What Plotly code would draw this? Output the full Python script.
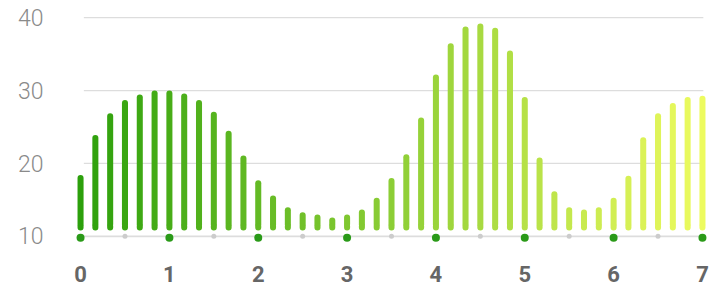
import plotly.graph_objects as go

# ---- data ----
bar_x = [i / 6 for i in range(43)]
bar_values = [18.4, 23.9, 26.9, 28.7, 29.45, 30.0, 30.0, 29.6, 28.7, 27.1, 24.5,
              21.1, 17.7, 15.6, 14.0, 13.3, 13.0, 12.6, 13.0, 13.7, 15.3, 18.0,
              21.25, 26.3, 32.2, 36.5, 38.8, 39.2, 38.6, 35.5, 29.1, 20.8, 16.2,
              14.0, 13.7, 14.0, 15.3, 18.3, 23.6, 26.9, 28.3, 29.1, 29.3]
bar_base = 10.8
major_ticks = [0, 1, 2, 3, 4, 5, 6, 7]
minor_dots = [0.5, 1.5, 2.5, 3.5, 4.5, 5.5, 6.5]
y_ticks = [10, 20, 30, 40]
grid_lines = [20, 30, 40]

# ---- style ----
c0 = (44, 160, 12)
c1 = (237, 251, 95)
def col(x):
    t = x / 7
    return "rgb(%d,%d,%d)" % tuple(round(a + (b - a) * t) for a, b in zip(c0, c1))
colors = [col(x) for x in bar_x]
cap = 1.0  # height (in data units) of the bottom round-cap piece
upper_base = bar_base + 0.45

fig = go.Figure()
# main bar (rounded top)
fig.add_trace(go.Bar(x=bar_x, y=[v - upper_base for v in bar_values], base=upper_base,
                     width=0.068, marker=dict(color=colors, line=dict(width=0)),
                     hoverinfo="skip"))
# bottom cap (rounded bottom)
fig.add_trace(go.Bar(x=bar_x, y=[-cap] * len(bar_x), base=bar_base + cap,
                     width=0.068, marker=dict(color=colors, line=dict(width=0)),
                     hoverinfo="skip"))

shapes = []
for g in grid_lines:
    shapes.append(dict(type="line", xref="x", yref="y", x0=0.037, x1=7.01, y0=g, y1=g,
                       line=dict(color="#dddddd", width=1.3), layer="below"))
shapes.append(dict(type="line", xref="x", yref="y", x0=0.037, x1=7.01, y0=10, y1=10,
                   line=dict(color="#dddddd", width=1.6), layer="below"))

fig.add_trace(go.Scatter(x=minor_dots, y=[10] * len(minor_dots), mode="markers",
                         marker=dict(color="#cccccc", size=5), cliponaxis=False,
                         hoverinfo="skip"))
fig.add_trace(go.Scatter(x=major_ticks, y=[9.8] * len(major_ticks), mode="markers",
                         marker=dict(color="#2a9a18", size=8), cliponaxis=False,
                         hoverinfo="skip"))

fig.update_layout(
    width=713, height=287,
    margin=dict(l=77, r=7, t=14, b=47, pad=0),
    paper_bgcolor="white", plot_bgcolor="white",
    showlegend=False, barmode="overlay", barcornerradius=3,
    shapes=shapes,
    xaxis=dict(range=[-0.04, 7.04], tickvals=major_ticks,
               ticktext=[str(t) for t in major_ticks], automargin=False,
               showgrid=False, zeroline=False, showline=False,
               ticks="outside", ticklen=15, tickcolor="rgba(0,0,0,0)",
               tickfont=dict(family="Roboto", size=22, color="#666666", weight=700)),
    yaxis=dict(range=[9.5, 40.5], tickvals=y_ticks, automargin=False,
               showgrid=False, zeroline=False, showline=False,
               ticks="outside", ticklen=28, tickcolor="rgba(0,0,0,0)",
               tickfont=dict(family="Roboto Light, Roboto", size=23, color="#8a8a8a",
                             weight=200)),
)

fig.write_html("out.html", post_script="document.body.style.margin='0';",
               config={"displayModeBar": False})
